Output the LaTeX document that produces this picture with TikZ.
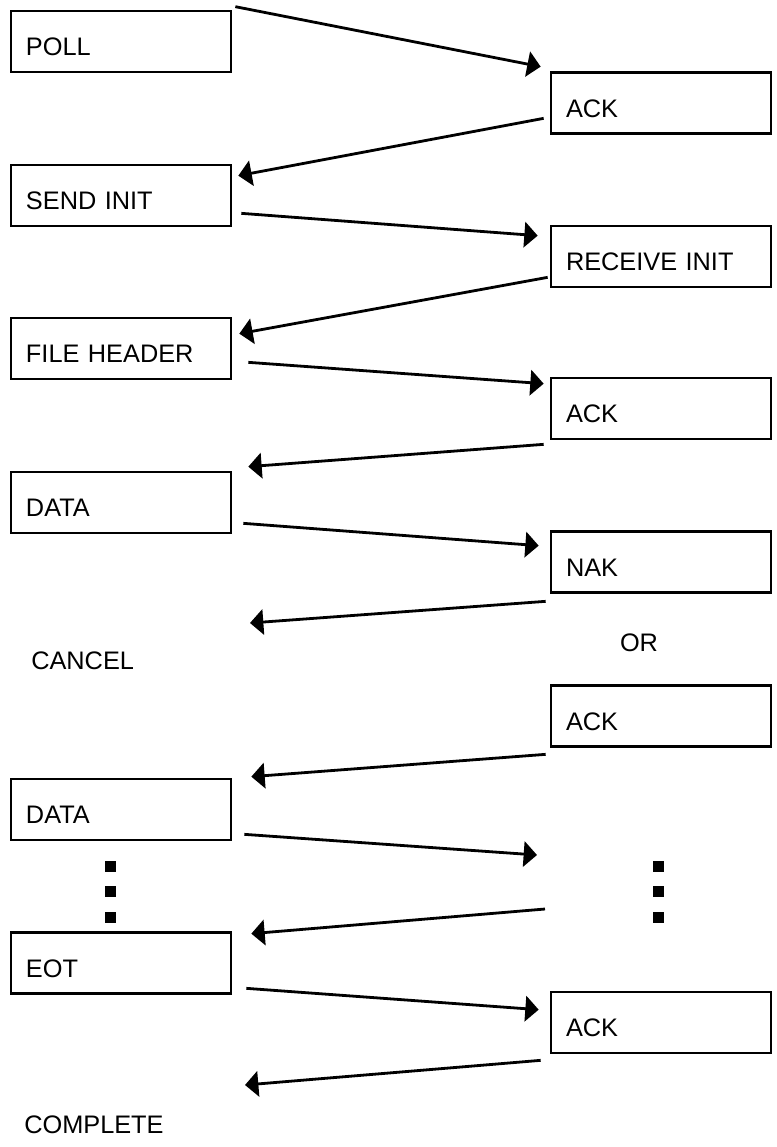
\documentclass[tikz,border=0pt]{standalone}
\usepackage{fontspec}
\setmainfont[WordSpace=0.45]{Liberation Sans}
\usetikzlibrary{arrows.meta,calc}
\tikzset{
  msg/.style        = {draw, line width=2pt, minimum width=165pt, minimum height=45.75pt,
                       text width=142.5pt, align=left, inner xsep=11.25pt,
                       text height=21pt, text depth=0pt},
  txt/.style        = {inner sep=0pt},
  sig/.style        = {-{Triangle[length=10pt,width=19pt]}, line width=2.1pt},
  every node/.style = {font=\fontsize{19pt}{22pt}\selectfont},
}

\begin{document}
\begin{tikzpicture}[x=0.75pt,y=-0.75pt]
  \useasboundingbox (0,0) rectangle (777,1147);
  % sender side
  \node[msg] (poll)  at (121,41.5)  {POLL};
  \node[msg] (sinit) at (121,195.5) {SEND INIT};
  \node[msg] (fhdr)  at (121,348.5) {FILE HEADER};
  \node[msg] (data1) at (121,502.5) {DATA};
  \node[txt, anchor=west] (cancel) at (31,661) {CANCEL};
  \node[msg] (data2) at (121,809.5) {DATA};
  \node[msg] (eot)   at (121,963)   {EOT};
  \node[txt, anchor=west] (complete) at (24,1125) {COMPLETE};
  % receiver side
  \node[msg] (ack1)  at (661,103)   {ACK};
  \node[msg] (rinit) at (661,256.5) {RECEIVE INIT};
  \node[msg] (ack2)  at (661,408.5) {ACK};
  \node[msg] (nak)   at (661,562)   {NAK};
  \node[txt] (orlbl) at (639,643)   {OR};
  \node[msg] (ack3)  at (661,716)   {ACK};
  \node[msg] (ack4)  at (661,1022.5) {ACK};
  % loose ends
  \coordinate (cancelin) at (250,623);
  \coordinate (dotsin)   at (537,855);
  \coordinate (dotsout)  at (545,909);
  \coordinate (donein)   at (245,1085);
  % messages
  \draw[sig] ($(poll.north east)+(3,-3)$)    -- ($(ack1.north west)+(-9,-4.5)$);
  \draw[sig] ($(ack1.south west)+(-6,-16.5)$) -- ($(sinit.north east)+(6,12)$);
  \draw[sig] ($(sinit.south east)+(9,-14)$)  -- ($(rinit.north west)+(-12,11)$);
  \draw[sig] ($(rinit.south west)+(-2,-11)$) -- ($(fhdr.north east)+(7,17)$);
  \draw[sig] ($(fhdr.south east)+(16,-18)$)  -- ($(ack2.north west)+(-6,7)$);
  \draw[sig] ($(ack2.south west)+(-6,4)$)    -- ($(data1.north east)+(16,-4)$);
  \draw[sig] ($(data1.south east)+(11,-11)$) -- ($(nak.north west)+(-11,15.5)$);
  \draw[sig] ($(nak.south west)+(-4,7.5)$)   -- (cancelin);
  \draw[sig] ($(ack3.south west)+(-4,6.5)$)  -- ($(data2.north east)+(19,-1)$);
  \draw[sig] ($(data2.south east)+(12,-7)$)  -- (dotsin);
  \draw[sig] (dotsout) -- ($(eot.north east)+(19,2.5)$);
  \draw[sig] ($(eot.south east)+(14,-6.5)$)  -- ($(ack4.north west)+(-11,19)$);
  \draw[sig] ($(ack4.south west)+(-9,6)$)    -- (donein);
  % repeat marks
  \foreach \y in {866.5,891.5,917.5} {
    \fill (105,\y-5.5) rectangle ++(11,11);
    \fill (653,\y-5.5) rectangle ++(11,11);
  }
\end{tikzpicture}
\end{document}
